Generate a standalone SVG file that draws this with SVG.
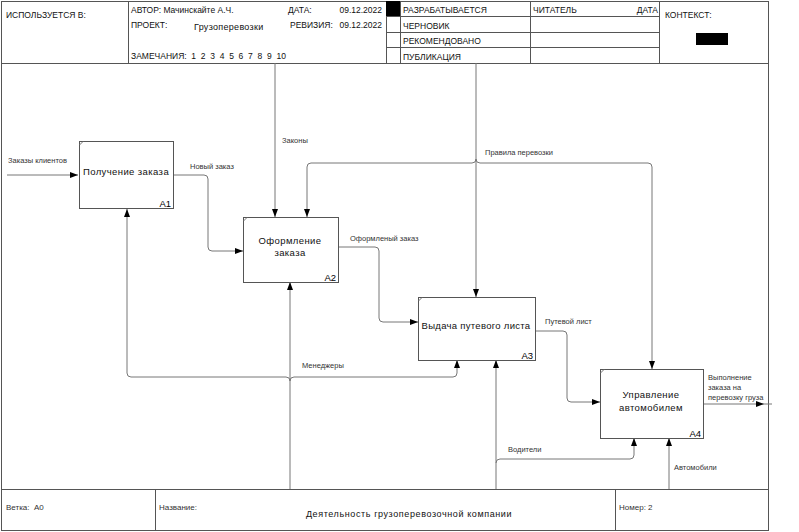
<svg xmlns="http://www.w3.org/2000/svg" width="799" height="532" viewBox="0 0 799 532">
<style>
.frame{fill:none;stroke:#555;stroke-width:1}
.hdr{font-family:"Liberation Sans",Arial,sans-serif;font-size:8.5px;fill:#111;white-space:pre}
.lbl{font-family:"Liberation Sans",Arial,sans-serif;font-size:7.5px;fill:#333;white-space:pre}
.box{fill:#fff;stroke:#555;stroke-width:1}
.btxt{font-family:"Liberation Sans",Arial,sans-serif;font-size:9.5px;letter-spacing:0.4px;fill:#111;text-anchor:middle}
.bnum{font-family:"Liberation Sans",Arial,sans-serif;font-size:9.5px;fill:#000;text-anchor:end}
.con{fill:none;stroke:#777;stroke-width:1}
</style>
<defs>
<marker id="ah" markerWidth="8" markerHeight="6" refX="8" refY="3" orient="auto" markerUnits="userSpaceOnUse">
<path d="M0,0 L8,3 L0,6 z" fill="#000"/>
</marker>
</defs>
<rect width="799" height="532" fill="#fff"/>
<g id="frame">
<rect class="frame" x="1.5" y="1.5" width="767" height="529"/>
<line class="frame" x1="1.5" y1="63.5" x2="768.5" y2="63.5"/>
<line class="frame" x1="1.5" y1="489.5" x2="768.5" y2="489.5"/>
<line class="frame" x1="128.5" y1="1.5" x2="128.5" y2="63.5"/>
<line class="frame" x1="386.5" y1="1.5" x2="386.5" y2="63.5"/>
<line class="frame" x1="400.5" y1="1.5" x2="400.5" y2="63.5"/>
<line class="frame" x1="530.5" y1="1.5" x2="530.5" y2="63.5"/>
<line class="frame" x1="659.5" y1="1.5" x2="659.5" y2="63.5"/>
<line class="frame" x1="386.5" y1="16.5" x2="659.5" y2="16.5"/>
<line class="frame" x1="386.5" y1="32.5" x2="659.5" y2="32.5"/>
<line class="frame" x1="386.5" y1="47.5" x2="659.5" y2="47.5"/>
<rect x="386" y="1" width="14" height="15" fill="#000"/>
<rect x="696" y="33" width="32" height="12" fill="#000"/>
<line class="frame" x1="155.5" y1="489.5" x2="155.5" y2="530.5"/>
<line class="frame" x1="615.5" y1="489.5" x2="615.5" y2="530.5"/>
<text class="hdr" x="6" y="18">ИСПОЛЬЗУЕТСЯ В:</text>
<text class="hdr" x="131" y="13">АВТОР: Мачинскайте А.Ч.</text>
<text class="hdr" x="288" y="13">ДАТА:</text>
<text class="hdr" x="382" y="13" text-anchor="end">09.12.2022</text>
<text class="hdr" x="131" y="28">ПРОЕКТ:</text>
<text class="hdr" x="194" y="30" style="font-size:9px;letter-spacing:0.3px">Грузоперевозки</text>
<text class="hdr" x="290" y="28">РЕВИЗИЯ:</text>
<text class="hdr" x="382" y="28" text-anchor="end">09.12.2022</text>
<text class="hdr" x="131" y="59">ЗАМЕЧАНИЯ:  1  2  3  4  5  6  7  8  9  10</text>
<text class="hdr" x="403" y="13">РАЗРАБАТЫВАЕТСЯ</text>
<text class="hdr" x="403" y="29">ЧЕРНОВИК</text>
<text class="hdr" x="403" y="44">РЕКОМЕНДОВАНО</text>
<text class="hdr" x="403" y="60">ПУБЛИКАЦИЯ</text>
<text class="hdr" x="533" y="13">ЧИТАТЕЛЬ</text>
<text class="hdr" x="658" y="13" text-anchor="end">ДАТА</text>
<text class="hdr" x="665" y="18">КОНТЕКСТ:</text>
<text class="lbl" x="6" y="510" style="font-size:8px">Ветка:  A0</text>
<text class="lbl" x="159" y="510" style="font-size:8px">Название:</text>
<text class="lbl" x="619" y="510" style="font-size:8px">Номер: 2</text>
<text class="hdr" x="409" y="517" text-anchor="middle" style="font-size:9px;letter-spacing:0.6px">Деятельность грузоперевозочной компании</text>
</g>
<g id="connectors">
<path class="con" d="M7 175 H78" marker-end="url(#ah)"/>
<path class="con" d="M173 175 H204 Q208 175 208 179 V247 Q208 251 212 251 H243" marker-end="url(#ah)"/>
<path class="con" d="M275 63 V217" marker-end="url(#ah)"/>
<path class="con" d="M476 63 V297" marker-end="url(#ah)"/>
<path class="con" d="M472 163 H311 Q307 163 307 167 V217" marker-end="url(#ah)"/>
<path class="con" d="M480 163 H648 Q652 163 652 167 V369" marker-end="url(#ah)"/>
<path class="con" d="M472 163 Q476 163 476 159 Q476 163 480 163"/>
<path class="con" d="M338 247 H375 Q379 247 379 251 V318 Q379 322 383 322 H418" marker-end="url(#ah)"/>
<path class="con" d="M535 331 H563 Q567 331 567 335 V398 Q567 402 571 402 H600" marker-end="url(#ah)"/>
<path class="con" d="M703 404 H764" marker-end="url(#ah)"/>
<path class="con" d="M764 404 H772"/>
<path class="con" d="M290 489 V282" marker-end="url(#ah)"/>
<path class="con" d="M286 377 H131 Q127 377 127 373 V209" marker-end="url(#ah)"/>
<path class="con" d="M294 377 H453 Q457 377 457 373 V360" marker-end="url(#ah)"/>
<path class="con" d="M286 377 Q290 377 290 381 Q290 377 294 377"/>
<path class="con" d="M496 489 V360" marker-end="url(#ah)"/>
<path class="con" d="M496 463 Q496 459 500 459 H630 Q634 459 634 455 V438" marker-end="url(#ah)"/>
<path class="con" d="M669 489 V438" marker-end="url(#ah)"/>
<text class="lbl" x="8" y="163">Заказы клиентов</text>
<text class="lbl" x="190" y="169">Новый заказ</text>
<text class="lbl" x="282" y="143">Законы</text>
<text class="lbl" x="485" y="155">Правила перевозки</text>
<text class="lbl" x="350" y="241">Оформленый заказ</text>
<text class="lbl" x="545" y="324">Путевой лист</text>
<text class="lbl" x="302" y="368">Менеджеры</text>
<text class="lbl" x="508" y="452">Водители</text>
<text class="lbl" x="674" y="470">Автомобили</text>
<text class="lbl" x="708" y="380">Выполнение</text>
<text class="lbl" x="708" y="390">заказа на</text>
<text class="lbl" x="708" y="400">перевозку груза</text>
</g>
<g id="A1">
<rect class="box" x="79.5" y="141.5" width="94" height="67"/>
<line class="con" x1="79.5" y1="145" x2="83" y2="141.5"/>
<text class="btxt" x="126" y="175">Получение заказа</text>
<text class="bnum" x="171" y="207">A1</text>
</g>
<g id="A2">
<rect class="box" x="243.5" y="217.5" width="95" height="65"/>
<line class="con" x1="243.5" y1="221" x2="247" y2="217.5"/>
<text class="btxt" x="290" y="244">Оформление</text>
<text class="btxt" x="290" y="256">заказа</text>
<text class="bnum" x="336" y="281">A2</text>
</g>
<g id="A3">
<rect class="box" x="418.5" y="297.5" width="117" height="63"/>
<line class="con" x1="418.5" y1="301" x2="422" y2="297.5"/>
<text class="btxt" x="476" y="329" style="letter-spacing:0.3px">Выдача путевого листа</text>
<text class="bnum" x="533" y="359">A3</text>
</g>
<g id="A4">
<rect class="box" x="600.5" y="369.5" width="103" height="69"/>
<line class="con" x1="600.5" y1="373" x2="604" y2="369.5"/>
<text class="btxt" x="651" y="398">Управление</text>
<text class="btxt" x="651" y="411">автомобилем</text>
<text class="bnum" x="701" y="437">A4</text>
</g>
</svg>
